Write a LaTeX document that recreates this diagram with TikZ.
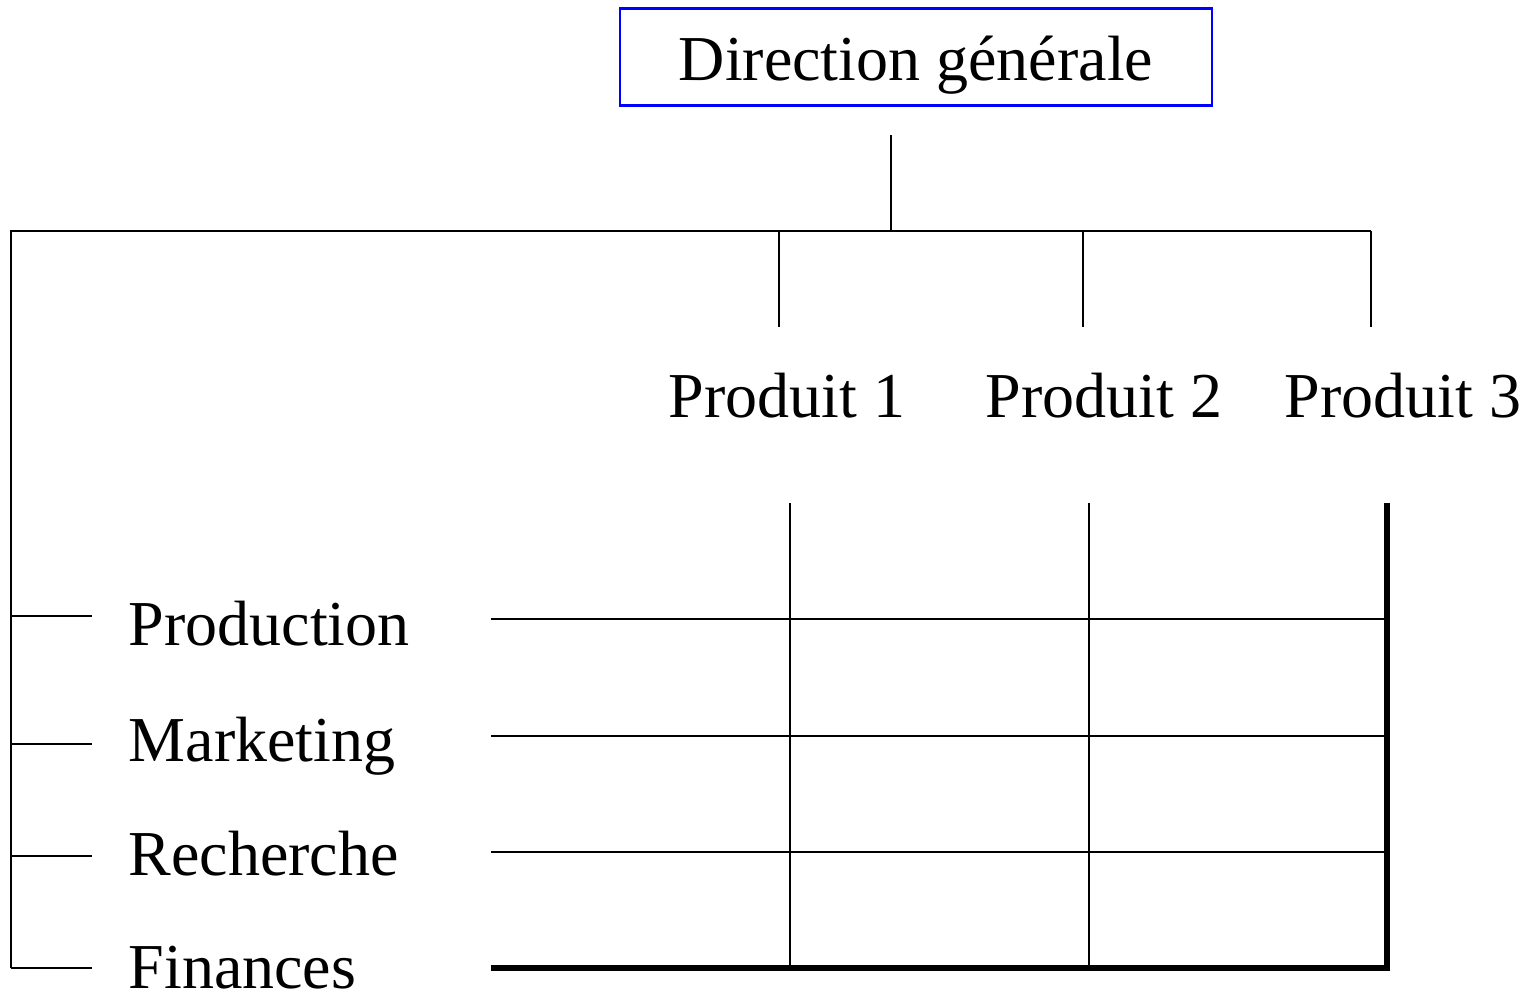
\documentclass[tikz,border=0pt]{standalone}
\usepackage{fontspec}
\setmainfont{Liberation Serif}
\usetikzlibrary{positioning}
\tikzset{x=0.01cm, y=-0.01cm, font=\fontsize{18.2}{18.2}\selectfont}
\tikzstyle{block} = [draw=blue, line width=0.6pt, rectangle, minimum width=5.92cm, inner sep=0pt, text height=0.72cm, text depth=0.25cm]
\tikzstyle{dept} = [anchor=base west, inner sep=0pt]
\tikzstyle{prod} = [anchor=base, inner sep=0pt]
\tikzstyle{link} = [line width=0.8pt]
\tikzstyle{frame} = [line width=1.8pt]
\begin{document}
\begin{tikzpicture}
    \useasboundingbox (0,0) rectangle (1530,993);
    \node [block] (dg) at (916,57) {Direction générale};
    \coordinate (stem) at (891,135);
    \coordinate (bus_l) at (11,231);
    \coordinate (bus_r) at (1371,231);

    % produits
    \node [prod] (p1) at (787,417) {Produit 1};
    \node [prod] (p2) at (1104,417) {Produit 2};
    \node [prod] (p3) at (1403,417) {Produit 3};

    % fonctions
    \node [dept] (f1) at (128,645) {Production};
    \node [dept] (f2) at (128,761) {Marketing};
    \node [dept] (f3) at (128,875) {Recherche};
    \node [dept] (f4) at (128,988) {Finances};

    \draw [link] (stem) -- (stem |- bus_l);
    \draw [link] (11,968) -- (bus_l) -- (bus_r);
    \foreach \x in {779,1083,1371}
        \draw [link] (\x,231) -- (\x,327);
    \foreach \y in {616,744,856,968}
        \draw [link] (11,\y) -- (92,\y);

    % matrice
    \foreach \y in {619,736,852}
        \draw [link] (491,\y) -- (1387,\y);
    \foreach \x in {790,1089}
        \draw [link] (\x,503) -- (\x,968);
    \draw [frame] (491,968) -- (1387,968) -- (1387,503);
\end{tikzpicture}
\end{document}
